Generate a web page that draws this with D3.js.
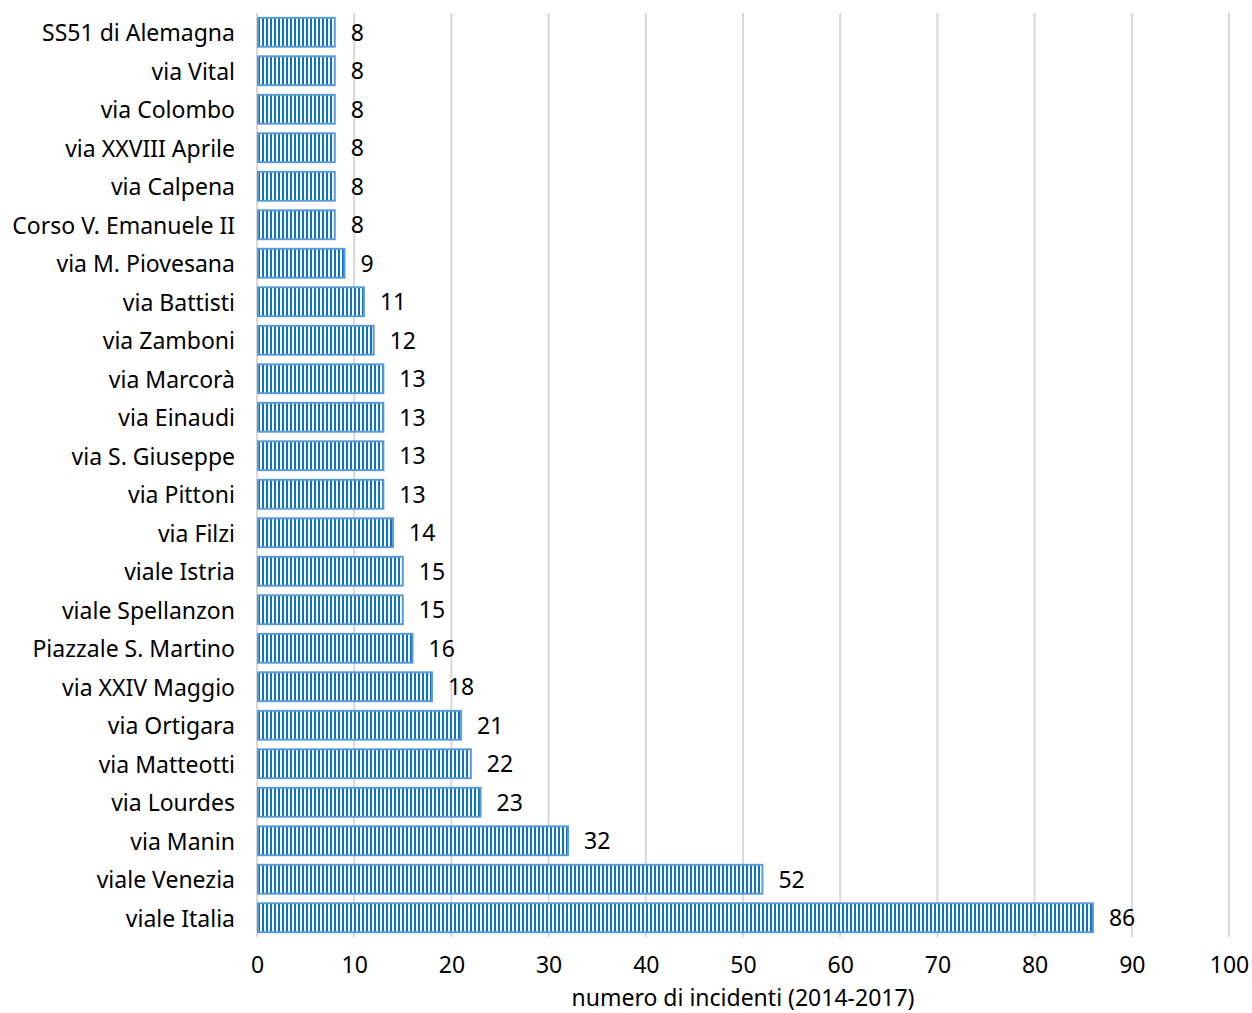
<!DOCTYPE html>
<html>
<head>
<meta charset="utf-8">
<script src="https://cdn.jsdelivr.net/npm/d3@7"></script>
<style>
  html, body { margin: 0; padding: 0; background: #fff; }
  svg { display: block; font-family: "Noto Sans", "Open Sans", sans-serif; }
</style>
</head>
<body>
<svg id="chart" width="1252" height="1013"></svg>
<script>
// Streets (top to bottom) and number of accidents 2014-2017
const streets = [
  "SS51 di Alemagna", "via Vital", "via Colombo", "via XXVIII Aprile", "via Calpena",
  "Corso V. Emanuele II", "via M. Piovesana", "via Battisti", "via Zamboni", "via Marcorà",
  "via Einaudi", "via S. Giuseppe", "via Pittoni", "via Filzi", "viale Istria",
  "viale Spellanzon", "Piazzale S. Martino", "via XXIV Maggio", "via Ortigara", "via Matteotti",
  "via Lourdes", "via Manin", "viale Venezia", "viale Italia"
];
const incidents = [8, 8, 8, 8, 8, 8, 9, 11, 12, 13, 13, 13, 13, 14, 15, 15, 16, 18, 21, 22, 23, 32, 52, 86];
const xTicks = [0, 10, 20, 30, 40, 50, 60, 70, 80, 90, 100];
const axisTitle = "numero di incidenti (2014-2017)";

const svg = d3.select("#chart");
const plotLeft = 257, plotRight = 1229, plotTop = 13, plotBottom = 937;
const fontSize = 23;

const x = d3.scaleLinear().domain([0, 100]).range([plotLeft, plotRight]);
const y = d3.scaleBand().domain(streets).range([plotTop, plotBottom]).paddingInner(0.25).paddingOuter(0.125);

// vertical stripe fill for the bars
const defs = svg.append("defs");
const pat = defs.append("pattern")
  .attr("id", "stripes").attr("patternUnits", "userSpaceOnUse")
  .attr("width", 4).attr("height", 4).attr("x", plotLeft + 1);
pat.append("rect").attr("width", 4).attr("height", 4).attr("fill", "#ffffff");
pat.append("rect").attr("x", 0).attr("width", 2).attr("height", 4).attr("fill", "#0a73c4");

// gridlines
svg.append("g").selectAll("line").data(xTicks).join("line")
  .attr("x1", d => x(d)).attr("x2", d => x(d))
  .attr("y1", plotTop).attr("y2", plotBottom)
  .attr("stroke", "#d9d9d9").attr("stroke-width", 2);

// bars
const data = streets.map((s, i) => ({ s, v: incidents[i] }));
svg.append("g").selectAll("rect").data(data).join("rect")
  .attr("x", x(0) + 1)
  .attr("y", d => y(d.s))
  .attr("width", d => x(d.v) - x(0) - 1)
  .attr("height", y.bandwidth())
  .attr("fill", "url(#stripes)")
  .attr("stroke", "#5b9bd5").attr("stroke-width", 2);

// value labels
svg.append("g").selectAll("text").data(data).join("text")
  .attr("x", d => x(d.v) + 16)
  .attr("y", d => y(d.s) + y.bandwidth() / 2)
  .attr("dy", "0.38em")
  .attr("font-size", fontSize).attr("fill", "#000")
  .text(d => d.v);

// category labels
const yAxis = svg.append("g").attr("transform", `translate(${plotLeft},0)`)
  .call(d3.axisLeft(y).tickSize(0).tickPadding(22));
yAxis.select(".domain").remove();
yAxis.selectAll("text").attr("font-size", fontSize).attr("fill", "#000")
  .attr("dy", "0.38em")
  .attr("font-family", "'Noto Sans', 'Open Sans', sans-serif");

// x axis tick labels
const xAxis = svg.append("g").attr("transform", `translate(0,${plotBottom})`)
  .call(d3.axisBottom(x).tickValues(xTicks).tickSize(0).tickPadding(20));
xAxis.select(".domain").remove();
xAxis.selectAll("text").attr("font-size", fontSize).attr("fill", "#000")
  .attr("font-family", "'Noto Sans', 'Open Sans', sans-serif");

// axis title
svg.append("text")
  .attr("x", (plotLeft + plotRight) / 2).attr("y", 1006)
  .attr("text-anchor", "middle").attr("font-size", fontSize).attr("fill", "#000")
  .text(axisTitle);
</script>
</body>
</html>
